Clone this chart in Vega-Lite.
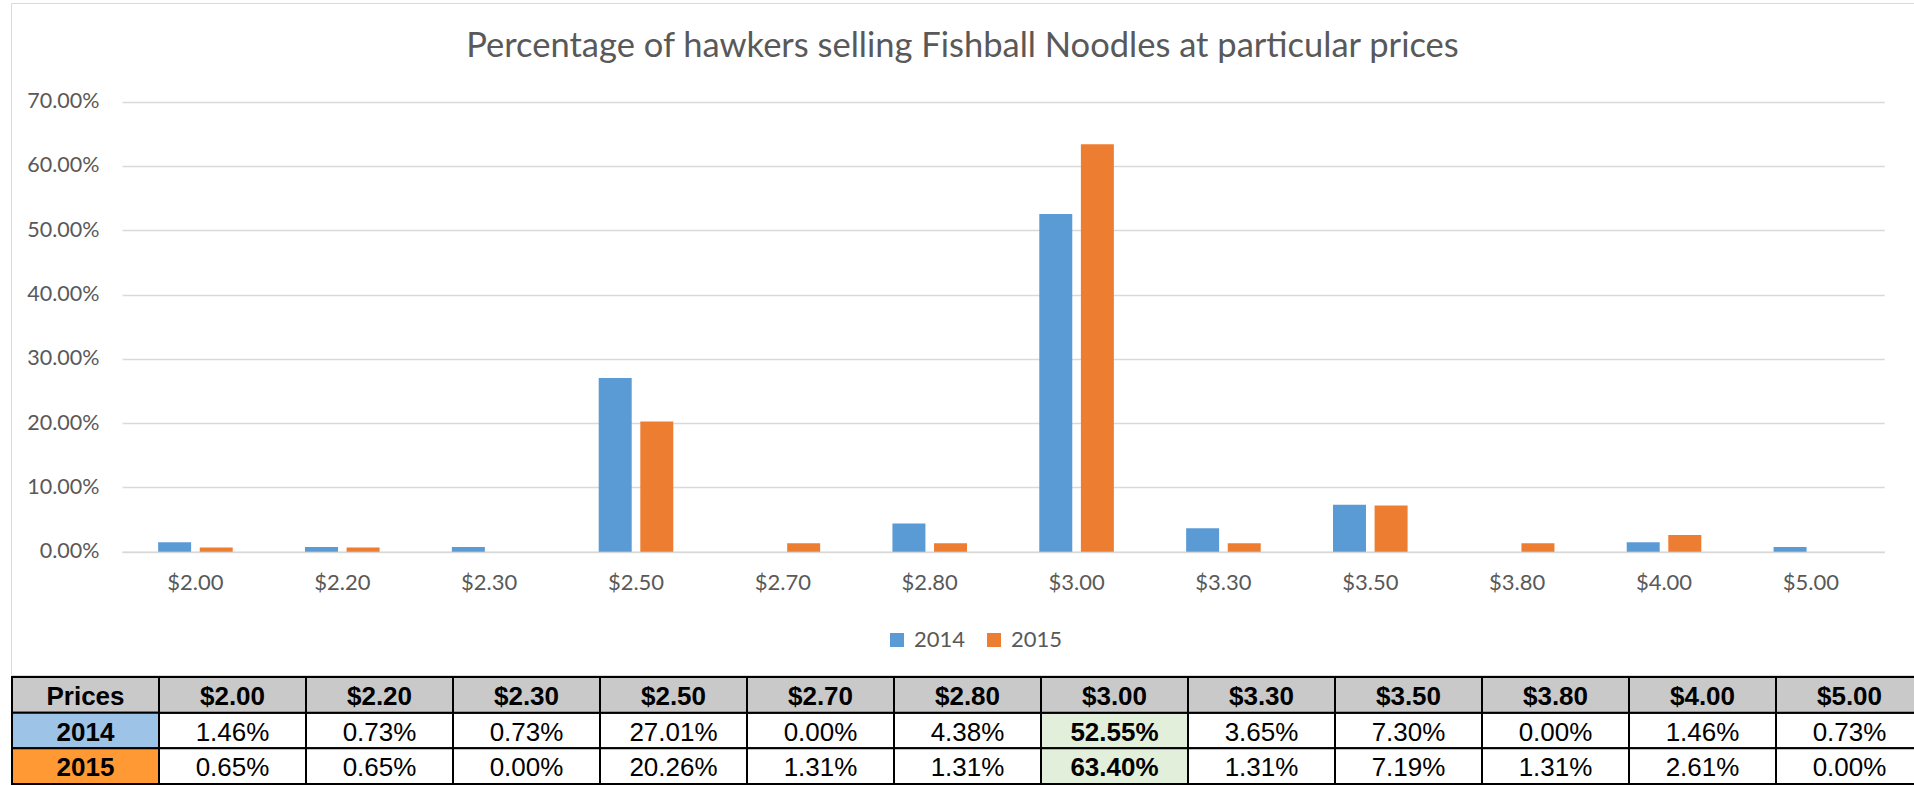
{
  "$schema": "https://vega.github.io/schema/vega-lite/v6.json",
  "padding": {"left": 10, "top": 2, "right": 0, "bottom": 0},
  "background": "white",
  "spacing": 1,
  "bounds": "flush",
  "config": {"font": "Lato", "view": {"stroke": null}},
  "resolve": {"scale": {"x": "independent", "y": "independent", "color": "independent", "fill": "independent"}, "legend": {"color": "independent"}},
  "datasets": {
    "shares": [
      {"price": "$2.00", "year": "2014", "share": 0.0146},
      {"price": "$2.20", "year": "2014", "share": 0.0073},
      {"price": "$2.30", "year": "2014", "share": 0.0073},
      {"price": "$2.50", "year": "2014", "share": 0.2701},
      {"price": "$2.70", "year": "2014", "share": 0.0},
      {"price": "$2.80", "year": "2014", "share": 0.0438},
      {"price": "$3.00", "year": "2014", "share": 0.5255},
      {"price": "$3.30", "year": "2014", "share": 0.0365},
      {"price": "$3.50", "year": "2014", "share": 0.073},
      {"price": "$3.80", "year": "2014", "share": 0.0},
      {"price": "$4.00", "year": "2014", "share": 0.0146},
      {"price": "$5.00", "year": "2014", "share": 0.0073},
      {"price": "$2.00", "year": "2015", "share": 0.0065},
      {"price": "$2.20", "year": "2015", "share": 0.0065},
      {"price": "$2.30", "year": "2015", "share": 0.0},
      {"price": "$2.50", "year": "2015", "share": 0.2026},
      {"price": "$2.70", "year": "2015", "share": 0.0131},
      {"price": "$2.80", "year": "2015", "share": 0.0131},
      {"price": "$3.00", "year": "2015", "share": 0.634},
      {"price": "$3.30", "year": "2015", "share": 0.0131},
      {"price": "$3.50", "year": "2015", "share": 0.0719},
      {"price": "$3.80", "year": "2015", "share": 0.0131},
      {"price": "$4.00", "year": "2015", "share": 0.0261},
      {"price": "$5.00", "year": "2015", "share": 0.0}
    ],
    "heads": [
      {"col": "Prices", "row": "Prices", "label": "Prices", "kind": "header"},
      {"col": "$2.00", "row": "Prices", "label": "$2.00", "kind": "header"},
      {"col": "$2.20", "row": "Prices", "label": "$2.20", "kind": "header"},
      {"col": "$2.30", "row": "Prices", "label": "$2.30", "kind": "header"},
      {"col": "$2.50", "row": "Prices", "label": "$2.50", "kind": "header"},
      {"col": "$2.70", "row": "Prices", "label": "$2.70", "kind": "header"},
      {"col": "$2.80", "row": "Prices", "label": "$2.80", "kind": "header"},
      {"col": "$3.00", "row": "Prices", "label": "$3.00", "kind": "header"},
      {"col": "$3.30", "row": "Prices", "label": "$3.30", "kind": "header"},
      {"col": "$3.50", "row": "Prices", "label": "$3.50", "kind": "header"},
      {"col": "$3.80", "row": "Prices", "label": "$3.80", "kind": "header"},
      {"col": "$4.00", "row": "Prices", "label": "$4.00", "kind": "header"},
      {"col": "$5.00", "row": "Prices", "label": "$5.00", "kind": "header"},
      {"col": "Prices", "row": "2014", "label": "2014", "kind": "2014"},
      {"col": "Prices", "row": "2015", "label": "2015", "kind": "2015"}
    ]
  },
  "vconcat": [
    {
      "width": 1903,
      "height": 672,
      "view": {"stroke": "#d9d9d9", "strokeWidth": 1},
      "title": {
        "text": "Percentage of hawkers selling Fishball Noodles at particular prices",
        "frame": "group",
        "anchor": "middle",
        "orient": "top",
        "offset": -88,
        "baseline": "alphabetic",
        "font": "Lato",
        "fontSize": 34.5,
        "fontWeight": "normal",
        "color": "#595959"
      },
      "data": {"name": "shares"},
      "mark": {"type": "bar"},
      "encoding": {
        "x": {
          "field": "price",
          "type": "nominal",
          "sort": null,
          "scale": {
            "domain": ["$2.00", "$2.20", "$2.30", "$2.50", "$2.70", "$2.80", "$3.00", "$3.30", "$3.50", "$3.80", "$4.00", "$5.00"],
            "range": [111, 1873.3],
            "paddingInner": 0,
            "paddingOuter": 0
          },
          "axis": {
            "title": null,
            "orient": "bottom",
            "offset": -123.3,
            "labelAngle": 0,
            "labelFont": "Lato",
            "labelFontSize": 22,
            "labelColor": "#595959",
            "labelPadding": 21,
            "ticks": false,
            "tickSize": 0,
            "domain": true,
            "domainColor": "#d9d9d9",
            "domainWidth": 1.5,
            "grid": false
          }
        },
        "xOffset": {
          "field": "year",
          "type": "nominal",
          "scale": {"domain": ["2014", "2015"], "paddingInner": 0.207, "paddingOuter": 0.8686}
        },
        "y": {
          "field": "share",
          "type": "quantitative",
          "scale": {"domain": [0, 0.7], "range": [548.7, 98.7], "nice": false, "zero": true},
          "axis": {
            "title": null,
            "values": [0, 0.1, 0.2, 0.3, 0.4, 0.5, 0.6, 0.7],
            "format": ".2%",
            "offset": -88,
            "ticks": false,
            "tickSize": 0,
            "labelPadding": 0,
            "domain": false,
            "grid": true,
            "gridColor": "#d9d9d9",
            "gridWidth": 1.5,
            "labelFont": "Lato",
            "labelFontSize": 21.5,
            "labelColor": "#595959"
          }
        },
        "color": {
          "field": "year",
          "type": "nominal",
          "scale": {"domain": ["2014", "2015"], "range": ["#5b9bd5", "#ed7d31"]},
          "legend": {
            "title": null,
            "orient": "none",
            "legendX": 875,
            "legendY": 626,
            "direction": "horizontal",
            "symbolType": "square",
            "symbolSize": 196,
            "symbolStrokeWidth": 0,
            "labelFont": "Lato",
            "labelFontSize": 22,
            "labelColor": "#595959",
            "labelOffset": 6,
            "columnPadding": 17,
            "padding": 0
          }
        }
      }
    },
    {
      "width": 1904,
      "height": 109,
      "view": {"stroke": null},
      "layer": [
        {
          "data": {"name": "shares"},
          "mark": {"type": "rect", "stroke": "black", "strokeWidth": 2, "clip": true},
          "encoding": {
            "x": {
              "field": "price",
              "type": "nominal",
              "sort": null,
              "scale": {
                "domain": ["Prices", "$2.00", "$2.20", "$2.30", "$2.50", "$2.70", "$2.80", "$3.00", "$3.30", "$3.50", "$3.80", "$4.00", "$5.00"],
                "range": [1, 1912],
                "paddingInner": 0,
                "paddingOuter": 0
              },
              "axis": null
            },
            "y": {
              "field": "year",
              "type": "nominal",
              "sort": null,
              "scale": {"domain": ["Prices", "2014", "2015"], "range": [1, 108], "paddingInner": 0, "paddingOuter": 0},
              "axis": null
            },
            "fill": {"condition": {"test": "datum.price === '$3.00'", "value": "#e2efda"}, "value": "#ffffff"}
          }
        },
        {
          "data": {"name": "heads"},
          "mark": {"type": "rect", "stroke": "black", "strokeWidth": 2, "clip": true},
          "encoding": {
            "x": {"field": "col", "type": "nominal", "sort": null, "axis": null},
            "y": {"field": "row", "type": "nominal", "sort": null, "axis": null},
            "fill": {
              "field": "kind",
              "type": "nominal",
              "scale": {"domain": ["header", "2014", "2015"], "range": ["#c9c9c9", "#9dc3e6", "#ff9933"]},
              "legend": null
            }
          }
        },
        {
          "data": {"name": "shares"},
          "transform": [{"filter": "datum.price !== '$3.00'"}],
          "mark": {"type": "text", "font": "Liberation Sans", "fontSize": 26, "baseline": "middle", "dy": 2, "color": "#000000"},
          "encoding": {
            "x": {"field": "price", "type": "nominal", "sort": null, "axis": null},
            "y": {"field": "year", "type": "nominal", "sort": null, "axis": null},
            "text": {"field": "share", "type": "quantitative", "format": ".2%"}
          }
        },
        {
          "data": {"name": "shares"},
          "transform": [{"filter": "datum.price === '$3.00'"}],
          "mark": {"type": "text", "font": "Liberation Sans", "fontSize": 26, "fontWeight": "bold", "baseline": "middle", "dy": 2, "color": "#000000"},
          "encoding": {
            "x": {"field": "price", "type": "nominal", "sort": null, "axis": null},
            "y": {"field": "year", "type": "nominal", "sort": null, "axis": null},
            "text": {"field": "share", "type": "quantitative", "format": ".2%"}
          }
        },
        {
          "data": {"name": "heads"},
          "mark": {"type": "text", "font": "Liberation Sans", "fontSize": 26, "fontWeight": "bold", "baseline": "middle", "dy": 2, "color": "#000000"},
          "encoding": {
            "x": {"field": "col", "type": "nominal", "sort": null, "axis": null},
            "y": {"field": "row", "type": "nominal", "sort": null, "axis": null},
            "text": {"field": "label", "type": "nominal"}
          }
        }
      ]
    }
  ]
}
